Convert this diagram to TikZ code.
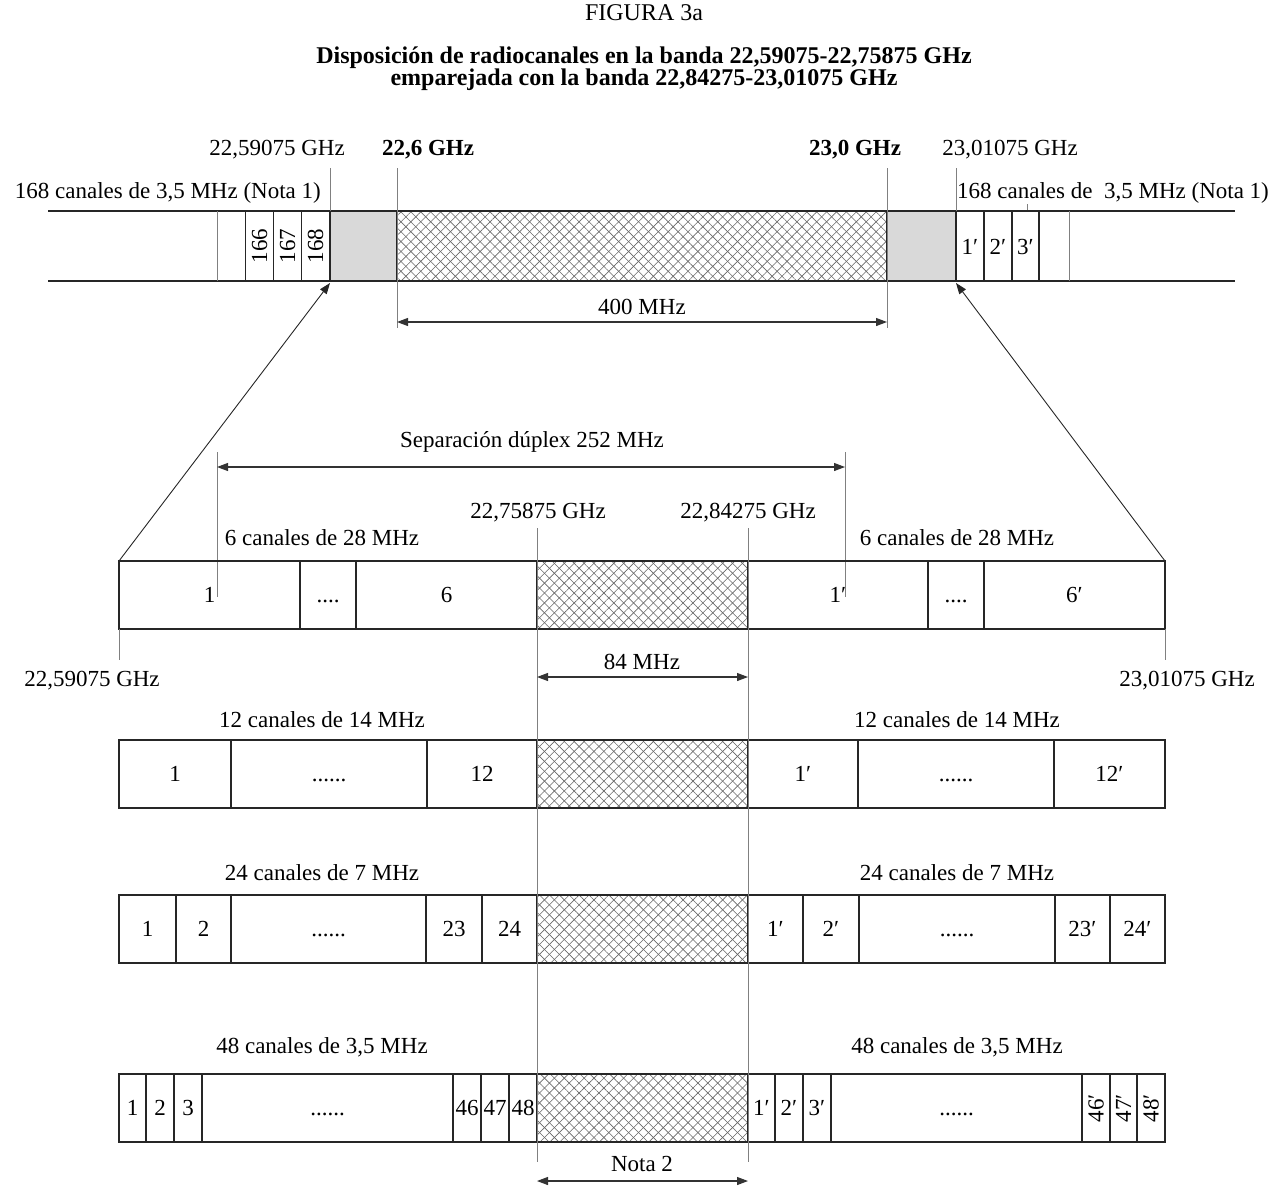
\documentclass[tikz,border=0pt]{standalone}
\usepackage{fontspec}
\setmainfont{Liberation Serif}
\usetikzlibrary{arrows.meta,patterns.meta}
\tikzset{
  every node/.style={font=\fontsize{23}{27}\selectfont, inner sep=0pt},
  titlefont/.style={font=\fontsize{24}{28}\selectfont\bfseries},
  box/.style={draw=black!85,line width=1.4pt},
  thinline/.style={draw=black!50,line width=0.9pt},
  dimline/.style={draw=black!80,line width=1.1pt,{Triangle[length=11pt,width=8pt]}-{Triangle[length=11pt,width=8pt]}},
  ptr/.style={draw=black!85,line width=0.9pt,-{Triangle[length=11pt,width=8pt]}},
  grayband/.style={fill=black!15},
}
\newcommand\hatchbox[4]{%
  \fill[pattern={Lines[angle=45,distance=7pt,line width=0.6pt]},pattern color=black!60] (#1,#2) rectangle (#3,#4);
  \fill[pattern={Lines[angle=-45,distance=7pt,line width=0.6pt]},pattern color=black!60] (#1,#2) rectangle (#3,#4);
  \draw[box] (#1,#2) rectangle (#3,#4);}
\newcommand\chcell[5]{%
  \draw[box] (#2,#4) rectangle (#3,#4+68);
  \node[anchor=base] (#1) at ({(#2+#3)/2},#4+41) {#5};}
\newcommand\chrot[5]{%
  \draw[box] (#2,#4) rectangle (#3,#4+68);
  \node[rotate=90] (#1) at ({(#2+#3)/2},#4+34) {#5};}
\begin{document}
\begin{tikzpicture}[x=1pt,y=-1pt]
\useasboundingbox (0,0) rectangle (1288,1187);
% titles
\node[font=\fontsize{24}{28}\selectfont] (fig) at (644,13) {FIGURA 3a};
\node[titlefont] (t1) at (644,58) {Disposición de radiocanales en la banda 22,59075-22,75875 GHz};
\node[titlefont] (t2) at (644,80) {emparejada con la banda 22,84275-23,01075 GHz};

% ---------- top band ----------
\node (f1) at (277,150) {22,59075 GHz};
\node[font=\fontsize{23}{27}\selectfont\bfseries] (f2) at (428,150) {22,6 GHz};
\node[font=\fontsize{23}{27}\selectfont\bfseries] (f3) at (855,150) {23,0 GHz};
\node (f4) at (1010,150) {23,01075 GHz};
\node[anchor=east] (lftlbl) at (321,193) {168 canales de 3,5 MHz (Nota 1)};
\node[anchor=west] (rgtlbl) at (957,193) {168 canales de\ \ 3,5 MHz (Nota 1)};
\draw[thinline] (1027,204) -- (1027,211);

\draw[box] (48,211) -- (330,211) (48,281) -- (330,281);
\draw[box] (956,211) -- (1235,211) (956,281) -- (1235,281);
\draw[thinline] (217,211) -- (217,281);
\draw[thinline] (1069,211) -- (1069,281);
\draw[box] (245.7,211) -- (245.7,281) (273.3,211) -- (273.3,281) (301.7,211) -- (301.7,281);
\draw[box] (984,211) -- (984,281) (1012,211) -- (1012,281) (1039,211) -- (1039,281);
\node[rotate=90] (b166) at (259.5,246) {166};
\node[rotate=90] (b167) at (287.5,246) {167};
\node[rotate=90] (b168) at (315.5,246) {168};
\node[anchor=base] (b1p) at (970,254) {1′};
\node[anchor=base] (b2p) at (998,254) {2′};
\node[anchor=base] (b3p) at (1025.5,254) {3′};
\fill[grayband] (330,211) rectangle (397,281);
\draw[box] (330,211) rectangle (397,281);
\fill[grayband] (887,211) rectangle (956,281);
\draw[box] (887,211) rectangle (956,281);
\hatchbox{397}{211}{887}{281}
\coordinate (gl) at (330,283);
\coordinate (gr) at (956,283);
\draw[thinline] (330,168) -- (330,211);
\draw[thinline] (397,168) -- (397,328);
\draw[thinline] (887,168) -- (887,328);
\draw[thinline] (956,168) -- (956,211);
\coordinate (d4l) at (397,322);
\coordinate (d4r) at (887,322);
\draw[dimline] (d4l) -- (d4r);
\node (m400) at (642,307) {400 MHz};

% ---------- zoom connectors ----------
\coordinate (r1l) at (119,561);
\coordinate (r1r) at (1165,561);
\draw[ptr] (r1l) -- (gl);
\draw[ptr] (r1r) -- (gr);

% duplex
\draw[thinline] (217,452) -- (217,597);
\draw[thinline] (845,452) -- (845,597);
\coordinate (dxl) at (217,467);
\coordinate (dxr) at (845,467);
\draw[dimline] (dxl) -- (dxr);
\node (dup) at (532,442) {Separación dúplex 252 MHz};

\node (g1) at (538,513) {22,75875 GHz};
\node (g2) at (748,513) {22,84275 GHz};

% row labels
\node (l28a) at (322,538) {6 canales de 28 MHz};
\node (l28b) at (957,538) {6 canales de 28 MHz};
\node (l14a) at (322,720) {12 canales de 14 MHz};
\node (l14b) at (957,720) {12 canales de 14 MHz};
\node (l7a) at (322,873) {24 canales de 7 MHz};
\node (l7b) at (957,873) {24 canales de 7 MHz};
\node (l35a) at (322,1047) {48 canales de 3,5 MHz};
\node (l35b) at (957,1047) {48 canales de 3,5 MHz};

% row 1 (28 MHz)
\chcell{a1}{119}{300}{561}{1}
\chcell{a2}{300}{356}{561}{....}
\chcell{a3}{356}{537}{561}{6}
\hatchbox{537}{561}{748}{629}
\chcell{a4}{748}{928}{561}{1′}
\chcell{a5}{928}{984}{561}{....}
\chcell{a6}{984}{1165}{561}{6′}

% row 2 (14 MHz)
\chcell{b1}{119}{231}{740}{1}
\chcell{b2}{231}{427}{740}{......}
\chcell{b3}{427}{537}{740}{12}
\hatchbox{537}{740}{748}{808}
\chcell{b4}{748}{858}{740}{1′}
\chcell{b5}{858}{1054}{740}{......}
\chcell{b6}{1054}{1165}{740}{12′}

% row 3 (7 MHz)
\chcell{c1}{119}{176}{895}{1}
\chcell{c2}{176}{231}{895}{2}
\chcell{c3}{231}{426}{895}{......}
\chcell{c4}{426}{482}{895}{23}
\chcell{c5}{482}{537}{895}{24}
\hatchbox{537}{895}{748}{963}
\chcell{c6}{748}{803}{895}{1′}
\chcell{c7}{803}{859}{895}{2′}
\chcell{c8}{859}{1055}{895}{......}
\chcell{c9}{1055}{1110}{895}{23′}
\chcell{c10}{1110}{1165}{895}{24′}

% row 4 (3.5 MHz)
\chcell{e1}{119}{146}{1074}{1}
\chcell{e2}{146}{174}{1074}{2}
\chcell{e3}{174}{202}{1074}{3}
\chcell{e4}{202}{453}{1074}{......}
\chcell{e5}{453}{481}{1074}{46}
\chcell{e6}{481}{509}{1074}{47}
\chcell{e7}{509}{537}{1074}{48}
\hatchbox{537}{1074}{748}{1142}
\chcell{e8}{748}{775}{1074}{1′}
\chcell{e9}{775}{803}{1074}{2′}
\chcell{e10}{803}{831}{1074}{3′}
\chcell{e11}{831}{1082}{1074}{......}
\chrot{e12}{1082}{1110}{1074}{46′}
\chrot{e13}{1110}{1137}{1074}{47′}
\chrot{e14}{1137}{1165}{1074}{48′}

% guide lines through rows
\draw[thinline] (537,528) -- (537,1162);
\draw[thinline] (748,528) -- (748,1162);
\draw[thinline] (119,629) -- (119,660);
\draw[thinline] (1165,629) -- (1165,660);
\node (e0l) at (92,681) {22,59075 GHz};
\node (e0r) at (1187,681) {23,01075 GHz};

\coordinate (d84l) at (537,677);
\coordinate (d84r) at (748,677);
\draw[dimline] (d84l) -- (d84r);
\node (m84) at (642,662) {84 MHz};

\coordinate (n2l) at (537,1181);
\coordinate (n2r) at (748,1181);
\draw[dimline] (n2l) -- (n2r);
\node (nota2) at (642,1164) {Nota 2};
\end{tikzpicture}
\end{document}
